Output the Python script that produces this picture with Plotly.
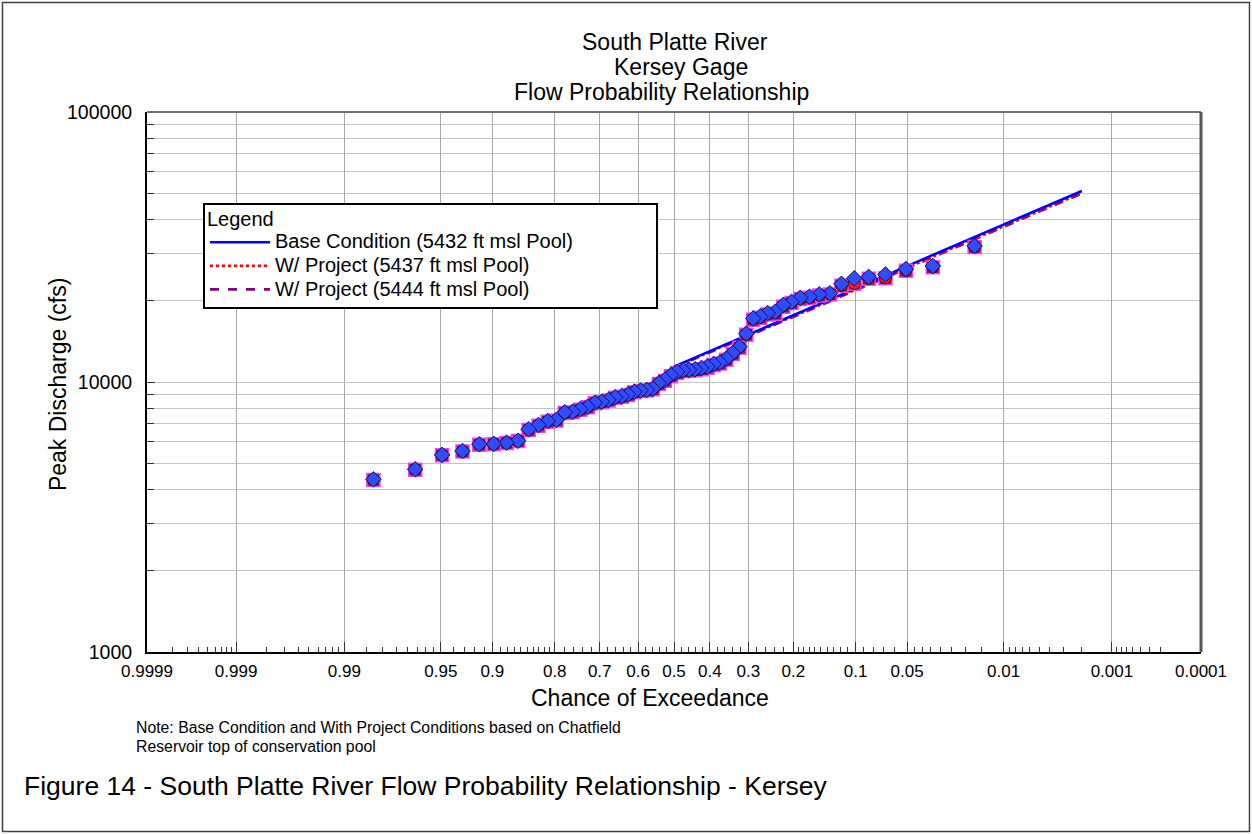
from statistics import NormalDist
import plotly.graph_objects as go

# ---------------------------------------------------------------------------
# Data
# ---------------------------------------------------------------------------
# Annual peak discharges at the Kersey gage (cfs), ranked largest to smallest
peak_base = [31900, 26900, 26200, 25000, 24500, 24200, 23100, 21300, 21100, 20700,
             20500, 19800, 19300, 18200, 18000, 17500, 17200, 15100, 13500, 12800,
             12200, 11800, 11650, 11400, 11250, 11150, 11100, 11050, 10900, 10600,
             10200, 9900, 9450, 9350, 9300, 9200, 9000, 8850, 8780, 8580,
             8450, 8380, 8100, 7930, 7760, 7720, 7240, 7170, 6930, 6680,
             6060, 5960, 5900, 5880, 5550, 5370, 4750, 4360]
peak_5437 = [31700, 26700, 25900, 24300, 24200, 23200, 22800, 21200, 21000, 20600,
             20400, 19700, 19200, 18100, 17900, 17400, 17100, 15000, 13450, 12750,
             12150, 11750, 11600, 11350, 11200, 11100, 11050, 11000, 10850, 10550,
             10150, 9870, 9420, 9330, 9280, 9180, 8980, 8830, 8760, 8560,
             8430, 8360, 8080, 7910, 7740, 7700, 7220, 7150, 6910, 6660,
             6050, 5950, 5890, 5870, 5540, 5360, 4740, 4350]
peak_5444 = [31600, 26600, 25800, 24200, 24100, 23100, 22700, 21100, 20900, 20500,
             20300, 19600, 19000, 17900, 17800, 17300, 17000, 14950, 13400, 12700,
             12100, 11700, 11550, 11300, 11150, 11050, 11000, 10950, 10800, 10500,
             10100, 9840, 9400, 9310, 9260, 9160, 8960, 8810, 8740, 8540,
             8410, 8340, 8060, 7890, 7720, 7680, 7200, 7130, 6890, 6640,
             6040, 5940, 5880, 5860, 5530, 5350, 4730, 4340]

# Computed frequency curves (cfs) at standard exceedance probabilities
curve_prob = [0.5, 0.2, 0.1, 0.04, 0.02, 0.01, 0.005, 0.002]
curve_base = [11400, 17600, 22200, 28400, 33200, 38400, 43700, 51000]
curve_5437 = [11350, 17450, 21950, 28000, 32700, 37800, 43000, 50200]
curve_5444 = [11300, 17350, 21850, 27850, 32500, 37550, 42750, 49900]

series_names = ["Base Condition (5432 ft msl Pool)",
                "W/ Project (5437 ft msl Pool)",
                "W/ Project (5444 ft msl Pool)"]

# Probability-axis ticks
major_prob = [0.9999, 0.999, 0.99, 0.95, 0.9, 0.8, 0.7, 0.6, 0.5, 0.4, 0.3,
              0.2, 0.1, 0.05, 0.01, 0.001, 0.0001]
major_text = ["0.9999", "0.999", "0.99", "0.95", "0.9", "0.8", "0.7", "0.6",
              "0.5", "0.4", "0.3", "0.2", "0.1", "0.05", "0.01", "0.001", "0.0001"]
minor_prob = ([0.9998, 0.9997, 0.9996, 0.9995, 0.9994, 0.9993, 0.9992, 0.9991]
              + [0.998, 0.997, 0.996, 0.995, 0.994, 0.993, 0.992, 0.991]
              + [0.985, 0.98, 0.975, 0.97, 0.965, 0.96, 0.955]
              + [0.94, 0.93, 0.92, 0.91]
              + [0.89, 0.88, 0.87, 0.86, 0.85, 0.84, 0.83, 0.82, 0.81]
              + [0.78, 0.76, 0.74, 0.72, 0.68, 0.66, 0.64, 0.62,
                 0.58, 0.56, 0.54, 0.52, 0.48, 0.46, 0.44, 0.42,
                 0.38, 0.36, 0.34, 0.32, 0.28, 0.26, 0.24, 0.22]
              + [0.19, 0.18, 0.17, 0.16, 0.15, 0.14, 0.13, 0.12, 0.11]
              + [0.09, 0.08, 0.07, 0.06]
              + [0.045, 0.04, 0.035, 0.03, 0.025, 0.02, 0.015]
              + [0.009, 0.008, 0.007, 0.006, 0.005, 0.004, 0.003, 0.002]
              + [0.0009, 0.0008, 0.0007, 0.0006, 0.0005, 0.0004, 0.0003])

y_major = [1000, 10000, 100000]
y_minor = [m * d for d in (1000, 10000) for m in range(2, 10)]

# ---------------------------------------------------------------------------
# Normal probability scale
# ---------------------------------------------------------------------------
_nd = NormalDist()


def prob_axis(p):
    """Exceedance probability -> standard normal variate (left = frequent)."""
    return _nd.inv_cdf(1.0 - p)


n_years = len(peak_base)
# Weibull plotting positions for the ranked peaks
plot_pos = [m / (n_years + 1) for m in range(1, n_years + 1)]
x_pts = [prob_axis(p) for p in plot_pos]
x_curve = [prob_axis(p) for p in curve_prob]

FONT = "Liberation Sans, Arial, sans-serif"
LEG_PX = 20  # legend text size; the row pitch comes from the smaller base font


def legend_label(txt, pad=0):
    return '<span style="font-size:%dpx">%s</span>' % (LEG_PX, txt + "&nbsp;" * pad)


fig = go.Figure()

# Frequency curves (legend entries)
curve_styles = [
    (curve_5444, "#800080", "dash", series_names[2], 3, 0),
    (curve_5437, "#ff0000", "dot", series_names[1], 2, 0),
    (curve_base, "#0000ff", "solid", series_names[0], 1, 14),
]
for vals, col, dash, name, rank, pad in curve_styles:
    fig.add_trace(go.Scatter(
        x=x_curve, y=vals, mode="lines", name=legend_label(name, pad),
        legendrank=rank, line=dict(color=col, width=2.6, dash=dash),
        hoverinfo="skip"))

# Plotted annual peaks
fig.add_trace(go.Scatter(
    x=x_pts, y=peak_5444, mode="markers", showlegend=False,
    marker=dict(symbol="square", size=13, color="#7a1a7a",
                line=dict(color="#ee44ee", width=1.5))))
fig.add_trace(go.Scatter(
    x=x_pts, y=peak_5437, mode="markers", showlegend=False,
    marker=dict(symbol="circle", size=12, color="#ff1a1a",
                line=dict(color="#500000", width=1))))
fig.add_trace(go.Scatter(
    x=x_pts, y=peak_base, mode="markers", showlegend=False,
    marker=dict(symbol="diamond", size=12, color="#2f4cff",
                line=dict(color="#101050", width=1))))

fig.update_layout(
    width=1252, height=834,
    margin=dict(l=147, r=51, t=112, b=182),
    paper_bgcolor="white", plot_bgcolor="white",
    font=dict(family=FONT, color="black"),
    showlegend=True,
    legend=dict(
        x=0.0531, y=0.8315, xanchor="left", yanchor="top",
        bgcolor="white", bordercolor="black", borderwidth=2,
        font=dict(family=FONT, size=15.8, color="black"),
        title=dict(text=legend_label("Legend"), font=dict(family=FONT, size=15.8)),
        itemwidth=60, tracegroupgap=0,
    ),
    xaxis=dict(
        range=[prob_axis(0.9999), prob_axis(0.0001)],
        tickmode="array",
        tickvals=[prob_axis(p) for p in major_prob],
        ticktext=major_text,
        tickfont=dict(family=FONT, size=17, color="black"),
        ticks="inside", ticklen=10, tickcolor="#333333", tickwidth=1,
        ticklabelstandoff=3,
        showgrid=True, gridcolor="#a8a8a8", gridwidth=1,
        zeroline=False,
        showline=True, linecolor="black", linewidth=2,
        minor=dict(tickmode="array",
                   tickvals=[prob_axis(p) for p in minor_prob],
                   ticks="inside", ticklen=5, tickcolor="#333333",
                   tickwidth=1, showgrid=False),
    ),
    yaxis=dict(
        type="log", range=[3, 5],
        tickmode="array", tickvals=y_major,
        ticktext=[str(v) for v in y_major],
        tickfont=dict(family=FONT, size=19.5, color="black"),
        ticks="inside", ticklen=8, tickcolor="#333333",
        ticklabelstandoff=9,
        showgrid=True, gridcolor="#c4c4c4", gridwidth=1,
        zeroline=False,
        showline=True, linecolor="black", linewidth=2,
        minor=dict(tickmode="array", tickvals=y_minor,
                   ticks="inside", ticklen=7, tickcolor="#333333",
                   showgrid=True, gridcolor="#c4c4c4", gridwidth=1),
    ),
)

# Plot frame (top and right) and the outer page border
fig.add_shape(type="line", xref="paper", yref="paper", x0=0, x1=1, y0=1, y1=1,
              line=dict(color="#707070", width=2))
fig.add_shape(type="line", xref="paper", yref="paper", x0=1, x1=1, y0=0, y1=1,
              line=dict(color="#555555", width=3))
fig.add_shape(type="rect", xref="paper", yref="paper",
              x0=-0.1371, x1=1.046, y0=-0.3324, y1=1.2028,
              line=dict(color="#404040", width=1.5))

# Titles and notes
title_lines = [("South Platte River", 0.501, 1.1296),
               ("Kersey Gage", 0.5066, 1.0833),
               ("Flow Probability Relationship", 0.4877, 1.037)]
for txt, xp, yp in title_lines:
    fig.add_annotation(text=txt, xref="paper", yref="paper", x=xp, y=yp,
                       xanchor="center", yanchor="middle", showarrow=False,
                       font=dict(family=FONT, size=23, color="black"))

fig.add_annotation(text="Chance of Exceedance", xref="paper", yref="paper",
                   x=0.4772, y=-0.0852, xanchor="center", yanchor="middle",
                   showarrow=False, font=dict(family=FONT, size=23))
fig.add_annotation(text="Peak Discharge (cfs)", xref="paper", yref="paper",
                   x=-0.0844, y=0.4944, xanchor="center", yanchor="middle",
                   textangle=-90, showarrow=False, font=dict(family=FONT, size=23))

note_lines = [("Note: Base Condition and With Project Conditions based on Chatfield", -0.1407),
              ("Reservoir top of conservation pool", -0.1741)]
for txt, yp in note_lines:
    fig.add_annotation(text=txt, xref="paper", yref="paper", x=-0.0128, y=yp,
                       xanchor="left", yanchor="middle", showarrow=False,
                       font=dict(family=FONT, size=15.8))

fig.add_annotation(text="Figure 14 - South Platte River Flow Probability Relationship - Kersey",
                   xref="paper", yref="paper", x=-0.1186, y=-0.2481,
                   xanchor="left", yanchor="middle", showarrow=False,
                   font=dict(family=FONT, size=26.5))

fig.write_html("out.html")
